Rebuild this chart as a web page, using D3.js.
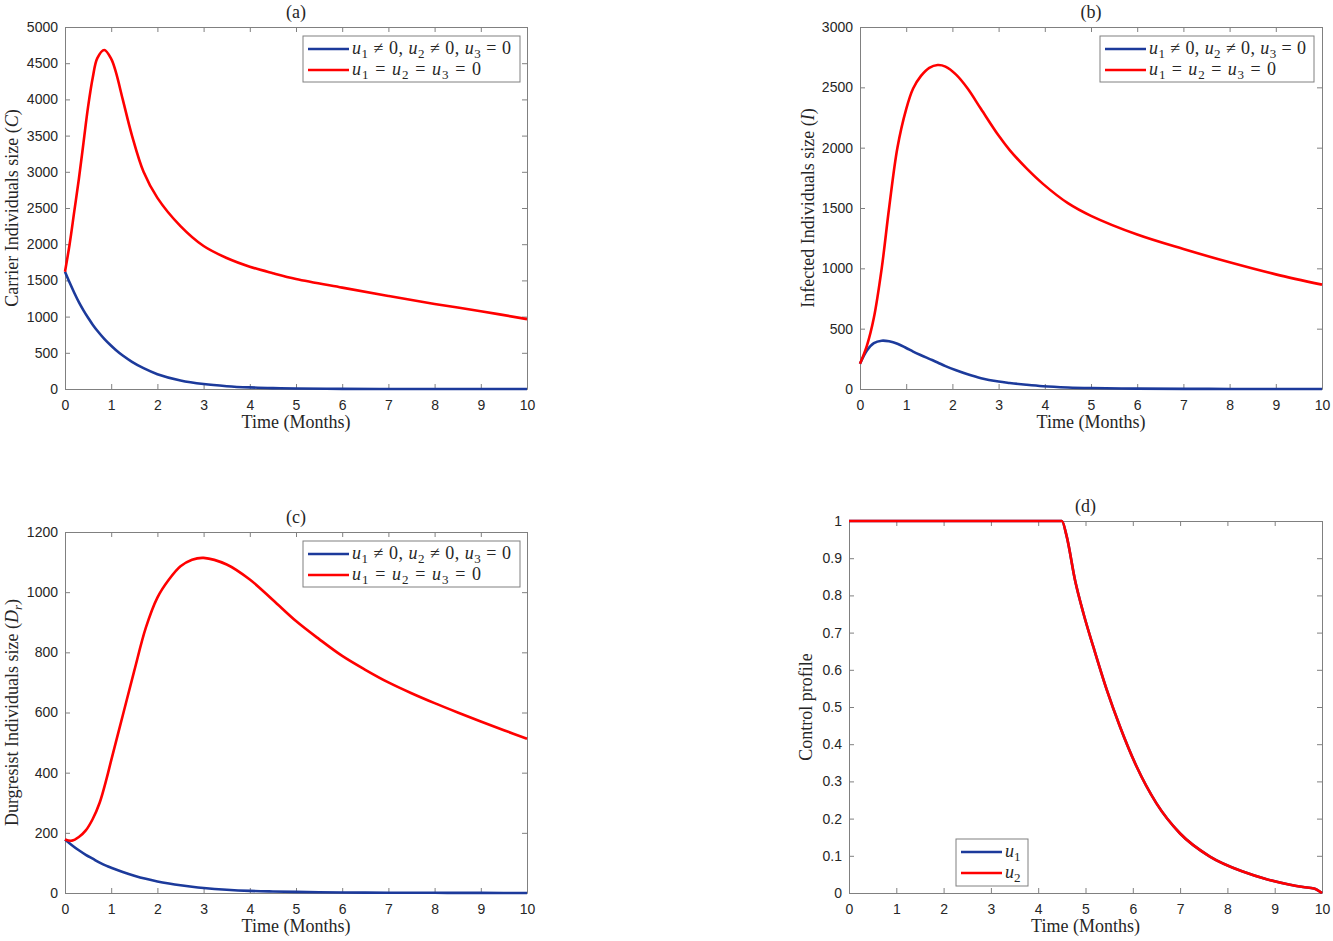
<!DOCTYPE html>
<html lang="en">
<head>
<meta charset="UTF-8">
<title>Control strategies</title>
<style>
    body { margin: 0; background: #fff; }
    .tick text { font: 14px "Liberation Sans", Arial, sans-serif; fill: #262626; }
    .domain, .tick line { stroke: #808080; }
    .lab { font-family: "Liberation Serif", "DejaVu Serif", serif; font-size: 18px; fill: #262626; }
</style>
</head>
<body>
<svg id="fig" width="1333" height="941"></svg>
<script src="https://d3js.org/d3.v7.min.js"></script>
<script>

// (a) carrier individuals C
var timeA = [0, 0.1, 0.2, 0.3, 0.4, 0.5, 0.6, 0.7, 0.85, 1.0, 1.1, 1.25, 1.45, 1.7, 2.0, 2.5, 3, 3.5, 4, 4.5, 5, 6, 7, 8, 9, 10];
var carrierControl = [1620, 1470, 1330, 1200, 1086, 983, 889, 805, 693, 597, 540, 462, 376, 288, 205, 118, 68, 39, 22, 12.5, 7, 2.2, 0.7, 0.2, 0.07, 0.02];
var carrierNoControl = [1620, 2000, 2450, 2900, 3400, 3900, 4300, 4570, 4683, 4560, 4380, 4000, 3500, 3000, 2640, 2250, 1975, 1810, 1690, 1600, 1520, 1400, 1285, 1175, 1075, 965];

// (b) infected individuals I
var timeB = [0, 0.15, 0.3, 0.47, 0.63, 0.81, 1.0, 1.15, 1.32, 1.5, 1.68, 1.85, 2.08, 2.33, 2.62, 3.0, 3.24, 3.6, 3.96, 4.5, 5, 6, 7, 8, 9, 10];
var infectedControl = [210, 320, 380, 400, 395, 375, 340, 310, 280, 250, 220, 190, 155, 122, 90, 62, 50, 35, 23, 13, 8, 3, 1, 0.5, 0.2, 0];
var infectedNoControl = [210, 360, 590, 1000, 1500, 2000, 2320, 2490, 2595, 2662, 2685, 2672, 2605, 2490, 2320, 2100, 1980, 1830, 1700, 1540, 1435, 1280, 1160, 1050, 950, 865];

// (c) drug resistant individuals Dr
var timeC = [0, 0.15, 0.3, 0.45, 0.6, 0.75, 0.9, 1, 1.25, 1.5, 1.75, 2, 2.25, 2.5, 2.75, 3, 3.5, 4, 4.5, 5, 5.5, 6, 6.5, 7, 7.5, 8, 8.5, 9, 9.5, 10];
var drugControl = [178, 159, 142, 127, 114, 101, 90, 84, 70, 57.5, 47, 38.5, 31.5, 25.5, 20.5, 16.5, 10.8, 7, 5, 3.6, 2.6, 1.9, 1.4, 1, 0.8, 0.6, 0.4, 0.3, 0.2, 0.1];
var drugNoControl = [178, 174, 186, 208, 246, 300, 380, 441, 590, 739, 882, 982, 1042, 1086, 1108, 1114, 1092, 1042, 974, 904, 844, 788, 742, 700, 664, 631, 600, 570, 541, 513];

// (d) control profiles
var timeD = [0, 4.5, 4.6, 4.78, 4.96, 5.17, 5.45, 5.73, 6.08, 6.5, 7.0, 7.63, 8.34, 8.83, 9.3, 9.6, 9.83, 10];
var u1Profile = [1, 1, 0.96, 0.84, 0.75, 0.66, 0.546, 0.447, 0.34, 0.241, 0.16, 0.098, 0.057, 0.037, 0.023, 0.016, 0.012, 0];
var u2Profile = [1, 1, 0.96, 0.84, 0.75, 0.66, 0.546, 0.447, 0.34, 0.241, 0.16, 0.098, 0.057, 0.037, 0.023, 0.016, 0.012, 0];

var monthTicks = [0, 1, 2, 3, 4, 5, 6, 7, 8, 9, 10];
var blue = "#1c3a9b", red = "#ff0000";

var svg = d3.select("#fig");

// legend label pieces: [text, italic?, subscript?]
var legControl = [["u", 1], ["1", 0, 1], [" \u2260 0, "], ["u", 1], ["2", 0, 1], [" \u2260 0, "], ["u", 1], ["3", 0, 1], [" = 0"]];
var legNone = [["u", 1], ["1", 0, 1], [" = "], ["u", 1], ["2", 0, 1], [" = "], ["u", 1], ["3", 0, 1], [" = 0"]];

function pieces(sel, parts) {
    var sub = false;
    parts.forEach(function(p) {
        var t = sel.append("tspan").text(p[0]);
        if (p[1]) t.attr("font-style", "italic");
        if (p[2]) { t.attr("font-size", "13px").attr("dy", sub ? 0 : 4); sub = true; }
        else if (sub) { t.attr("dy", -4); sub = false; }
    });
}

function panel(cfg) {
    var x = d3.scaleLinear().domain([0, 10]).range([cfg.left, cfg.right]);
    var y = d3.scaleLinear().domain([0, cfg.ymax]).range([cfg.bottom, cfg.top]);
    var g = svg.append("g");
    var fmt = d3.format("");

    g.append("g").attr("transform", "translate(0," + cfg.bottom + ")")
        .call(d3.axisBottom(x).tickValues(monthTicks).tickFormat(fmt).tickSizeInner(-5).tickSizeOuter(0).tickPadding(11));
    g.append("g").attr("transform", "translate(0," + cfg.top + ")")
        .call(d3.axisTop(x).tickValues(monthTicks).tickSizeInner(-5).tickSizeOuter(0).tickFormat(""));
    g.append("g").attr("transform", "translate(" + cfg.left + ",0)")
        .call(d3.axisLeft(y).tickValues(cfg.yticks).tickFormat(fmt).tickSizeInner(-5).tickSizeOuter(0).tickPadding(7));
    g.append("g").attr("transform", "translate(" + cfg.right + ",0)")
        .call(d3.axisRight(y).tickValues(cfg.yticks).tickSizeInner(-5).tickSizeOuter(0).tickFormat(""));

    var line = d3.line()
        .x(function(d) { return x(d[0]); })
        .y(function(d) { return y(d[1]); })
        .curve(cfg.curve);

    cfg.series.forEach(function(s) {
        g.append("path")
            .datum(d3.zip(cfg.time, s.values))
            .attr("fill", "none")
            .attr("stroke", s.color)
            .attr("stroke-width", 2.6)
            .attr("stroke-linejoin", "round")
            .attr("d", line);
    });

    // title and axis labels
    g.append("text").attr("class", "lab")
        .attr("x", (cfg.left + cfg.right) / 2).attr("y", cfg.top - 9)
        .attr("text-anchor", "middle").text(cfg.title);
    g.append("text").attr("class", "lab")
        .attr("x", (cfg.left + cfg.right) / 2).attr("y", cfg.bottom + 39)
        .attr("text-anchor", "middle").text("Time (Months)");
    var yl = g.append("text").attr("class", "lab")
        .attr("transform", "translate(" + cfg.ylabX + "," + (cfg.top + cfg.bottom) / 2 + ") rotate(-90)")
        .attr("text-anchor", "middle");
    pieces(yl, cfg.ylabel);

    // legend
    var L = cfg.legend;
    g.append("rect")
        .attr("x", L.x).attr("y", L.y).attr("width", L.w).attr("height", L.h)
        .attr("fill", "#fff").attr("stroke", "#808080");
    L.items.forEach(function(it, i) {
        var cy = L.y + L.row0 + i * L.step;
        g.append("line")
            .attr("x1", L.x + 5).attr("x2", L.x + 46)
            .attr("y1", cy).attr("y2", cy)
            .attr("stroke", cfg.series[i].color).attr("stroke-width", 2.6);
        var t = g.append("text").attr("class", "lab")
            .attr("x", L.x + 49).attr("y", cy + 5);
        if (L.lens) t.attr("textLength", L.lens[i]).attr("lengthAdjust", "spacing");
        pieces(t, it);
    });
}

var legRowsABC = [legControl, legNone];

panel({
    title: "(a)", left: 65, right: 527, top: 27, bottom: 389,
    ymax: 5000, yticks: d3.range(0, 5001, 500), ylabX: 18,
    ylabel: [["Carrier Individuals size ("], ["C", 1], [")"]],
    time: timeA, curve: d3.curveCatmullRom.alpha(0.5),
    series: [{ values: carrierControl, color: blue }, { values: carrierNoControl, color: red }],
    legend: { x: 303, y: 36, w: 217, h: 46, row0: 13, step: 21, lens: [159, 129], items: legRowsABC }
});

panel({
    title: "(b)", left: 860, right: 1322, top: 27, bottom: 389,
    ymax: 3000, yticks: d3.range(0, 3001, 500), ylabX: 814,
    ylabel: [["Infected Individuals size ("], ["I", 1], [")"]],
    time: timeB, curve: d3.curveCatmullRom.alpha(0.5),
    series: [{ values: infectedControl, color: blue }, { values: infectedNoControl, color: red }],
    legend: { x: 1100, y: 36, w: 214, h: 46, row0: 13, step: 21, lens: [157, 127], items: legRowsABC }
});

panel({
    title: "(c)", left: 65, right: 527, top: 532, bottom: 893,
    ymax: 1200, yticks: d3.range(0, 1201, 200), ylabX: 18,
    ylabel: [["Durgresist Individuals size ("], ["D", 1], ["r", 1, 1], [")"]],
    time: timeC, curve: d3.curveCatmullRom.alpha(0.5),
    series: [{ values: drugControl, color: blue }, { values: drugNoControl, color: red }],
    legend: { x: 303, y: 541, w: 217, h: 46, row0: 13, step: 21, lens: [159, 129], items: legRowsABC }
});

panel({
    title: "(d)", left: 849, right: 1322, top: 521, bottom: 893,
    ymax: 1, yticks: d3.range(0, 11).map(function(v) { return v / 10; }), ylabX: 812,
    ylabel: [["Control profile"]],
    time: timeD, curve: d3.curveMonotoneX,
    series: [{ values: u1Profile, color: blue }, { values: u2Profile, color: red }],
    legend: { x: 956, y: 839, w: 72, h: 47, row0: 13, step: 21,
        items: [[["u", 1], ["1", 0, 1]], [["u", 1], ["2", 0, 1]]] }
});

</script>
</body>
</html>
